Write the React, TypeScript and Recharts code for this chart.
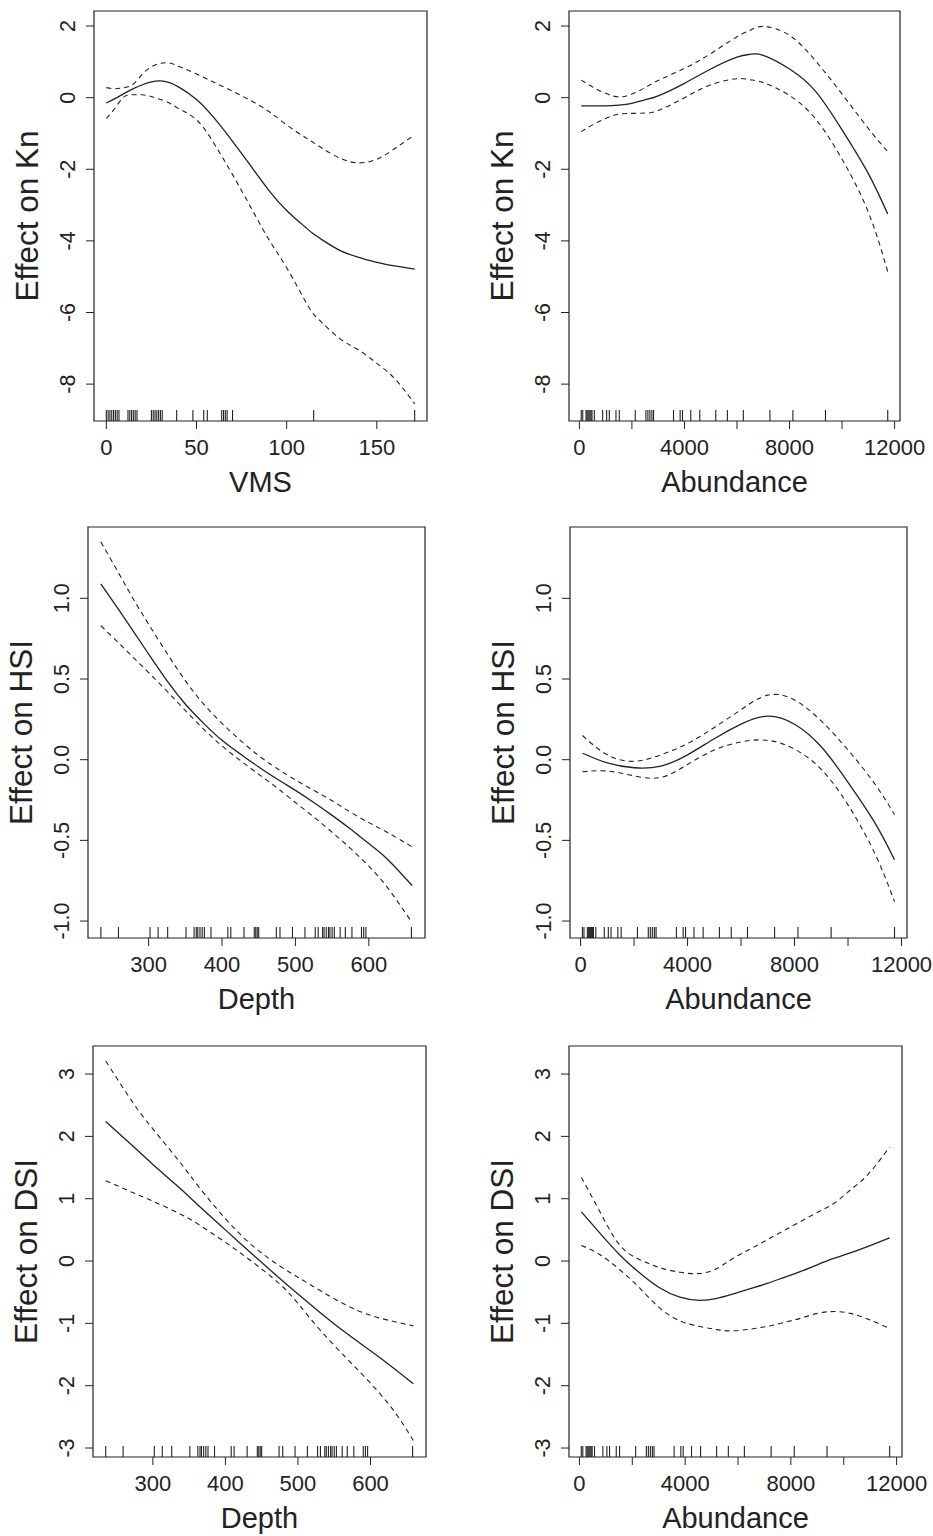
import { ComposedChart, Line, Scatter, XAxis, YAxis, ReferenceArea } from "recharts";

const FONT = '"Liberation Sans", Arial, sans-serif';
const INK = "#222";

// rug (observed covariate values)
const vmsRug = [0, 1, 2, 3, 4, 5, 6, 7, 12, 13, 14, 15, 16, 17, 25, 26, 27, 28, 29, 30, 31, 39, 48, 54, 56, 64, 65, 66, 67, 70, 115, 171];
const abundanceRug = [70, 127, 253, 291, 329, 367, 405, 443, 481, 570, 886, 1038, 1139, 1393, 1519, 2127, 2532, 2608, 2684, 2760, 2823, 3583, 3836, 3925, 4241, 4583, 5191, 5634, 6241, 7254, 8128, 9368, 11738];
const depthRug = [235, 259, 302, 313, 326, 351, 362, 365, 367, 370, 373, 376, 385, 408, 412, 430, 444, 446, 448, 450, 474, 479, 496, 513, 527, 531, 537, 539, 542, 545, 547, 550, 553, 561, 568, 577, 590, 593, 596, 658];

// Kn ~ VMS
const vmsX = [0, 5, 10, 15, 20, 25, 30, 35, 40, 50, 60, 70, 80, 90, 100, 110, 115, 120, 130, 140, 150, 160, 171];
const knVmsFit = [-0.15, -0.02, 0.12, 0.25, 0.36, 0.44, 0.47, 0.42, 0.3, -0.05, -0.58, -1.22, -1.9, -2.58, -3.15, -3.6, -3.81, -3.98, -4.28, -4.46, -4.6, -4.7, -4.79];
const knVmsUpper = [0.28, 0.25, 0.28, 0.38, 0.66, 0.86, 0.96, 0.97, 0.88, 0.66, 0.42, 0.18, -0.08, -0.38, -0.76, -1.1, -1.26, -1.42, -1.7, -1.82, -1.72, -1.42, -1.04];
const knVmsLower = [-0.58, -0.28, 0.03, 0.08, 0.08, 0.03, -0.05, -0.15, -0.3, -0.62, -1.3, -2.15, -3.05, -3.95, -4.75, -5.65, -6.05, -6.3, -6.75, -7.05, -7.42, -7.85, -8.55];

// Kn ~ Abundance
const knAbX = [72, 500, 1000, 1500, 2000, 2500, 3000, 4000, 5000, 6000, 6500, 7000, 8000, 9000, 10000, 11000, 11738];
const knAbFit = [-0.23, -0.23, -0.23, -0.21, -0.16, -0.06, 0.05, 0.4, 0.8, 1.13, 1.21, 1.18, 0.8, 0.17, -0.9, -2.12, -3.25];
const knAbUpper = [0.49, 0.3, 0.12, 0.02, 0.1, 0.28, 0.48, 0.82, 1.23, 1.7, 1.88, 1.99, 1.74, 1.02, 0.1, -0.86, -1.51];
const knAbLower = [-0.95, -0.76, -0.58, -0.46, -0.44, -0.43, -0.36, 0.0, 0.36, 0.53, 0.5, 0.42, 0.06, -0.6, -1.72, -3.2, -4.86];

// HSI ~ Depth
const hsiDepX = [235, 260, 280, 300, 325, 350, 375, 400, 425, 450, 475, 500, 525, 550, 575, 600, 625, 659];
const hsiDepFit = [1.09, 0.925, 0.79, 0.655, 0.49, 0.345, 0.225, 0.12, 0.035, -0.045, -0.12, -0.19, -0.265, -0.345, -0.43, -0.52, -0.615, -0.78];
const hsiDepUpper = [1.35, 1.15, 0.99, 0.84, 0.66, 0.49, 0.345, 0.225, 0.12, 0.025, -0.055, -0.125, -0.19, -0.255, -0.325, -0.39, -0.45, -0.54];
const hsiDepLower = [0.83, 0.72, 0.63, 0.54, 0.425, 0.305, 0.19, 0.085, -0.005, -0.09, -0.175, -0.265, -0.355, -0.45, -0.55, -0.66, -0.79, -1.01];

// HSI ~ Abundance
const hsiAbX = [72, 1000, 2000, 3000, 4000, 5000, 6000, 7000, 8000, 9000, 10000, 11000, 11738];
const hsiAbFit = [0.04, -0.02, -0.05, -0.04, 0.03, 0.13, 0.22, 0.27, 0.22, 0.08, -0.14, -0.39, -0.62];
const hsiAbUpper = [0.15, 0.03, -0.01, 0.03, 0.1, 0.2, 0.31, 0.4, 0.37, 0.24, 0.06, -0.15, -0.34];
const hsiAbLower = [-0.075, -0.07, -0.1, -0.11, -0.03, 0.06, 0.11, 0.12, 0.065, -0.06, -0.28, -0.58, -0.88];

// DSI ~ Depth
const dsiDepX = [235, 272, 300, 337, 364, 400, 438, 475, 500, 530, 567, 600, 632, 659];
const dsiDepFit = [2.24, 1.85, 1.55, 1.17, 0.88, 0.5, 0.1, -0.28, -0.53, -0.82, -1.16, -1.44, -1.72, -1.97];
const dsiDepUpper = [3.21, 2.55, 2.12, 1.59, 1.18, 0.68, 0.24, -0.08, -0.26, -0.47, -0.71, -0.87, -0.97, -1.04];
const dsiDepLower = [1.29, 1.1, 0.96, 0.76, 0.58, 0.3, -0.02, -0.37, -0.68, -1.1, -1.56, -1.96, -2.4, -2.88];

// DSI ~ Abundance
const dsiAbX = [72, 750, 1500, 2250, 3000, 3800, 4550, 5200, 5800, 6500, 7100, 7700, 8350, 9000, 9650, 10250, 10900, 11738];
const dsiAbFit = [0.79, 0.46, 0.11, -0.18, -0.42, -0.58, -0.63, -0.6, -0.53, -0.44, -0.36, -0.27, -0.17, -0.06, 0.045, 0.13, 0.23, 0.37];
const dsiAbUpper = [1.34, 0.81, 0.27, 0.03, -0.1, -0.18, -0.2, -0.12, 0.04, 0.2, 0.34, 0.48, 0.63, 0.78, 0.93, 1.14, 1.38, 1.83];
const dsiAbLower = [0.25, 0.11, -0.13, -0.42, -0.74, -0.96, -1.05, -1.1, -1.12, -1.09, -1.05, -0.99, -0.92, -0.84, -0.81, -0.84, -0.93, -1.08];

const vmsTicks = [0, 50, 100, 150];
const abundanceTicks = [0, 2000, 4000, 6000, 8000, 10000, 12000];
const depthTicks = [300, 400, 500, 600];
const knTicks = [-8, -6, -4, -2, 0, 2];
const hsiTicks = [-1, -0.5, 0, 0.5, 1];
const dsiTicks = [-3, -2, -1, 0, 1, 2, 3];

const vmsDomain: [number, number] = [-6.84, 177.84];
const abundanceDomain: [number, number] = [-395, 12205];
const depthDomain: [number, number] = [217.5, 676.5];
const knDomain: [number, number] = [-9.03, 2.42];
const hsiDomain: [number, number] = [-1.105, 1.442];
const dsiDomain: [number, number] = [-3.144, 3.45];

const AXIS_W = 94;

type PanelProps = {
  left: number;
  top: number;
  width: number;
  height: number;
  xs: number[];
  fit: number[];
  upper: number[];
  lower: number[];
  rug: number[];
  xDomain: [number, number];
  yDomain: [number, number];
  xTicks: number[];
  yTicks: number[];
  xLabel: (v: number) => string;
  yLabel: (v: number) => string;
  xTitle: string;
  yTitle: string;
};

const Panel = (p: PanelProps) => {
  const rows = p.xs.map((x, i) => ({ x, fit: p.fit[i], upper: p.upper[i], lower: p.lower[i] }));
  const rugRows = p.rug.map((x) => ({ x, y: p.yDomain[0] }));
  const chartW = AXIS_W + p.width + 44;
  const chartH = 10 + p.height + 90;

  return (
    <div style={{ position: "absolute", left: p.left - AXIS_W, top: p.top - 10 }}>
      <ComposedChart
        width={chartW}
        height={chartH}
        data={rows}
        margin={{ top: 10, right: 44, bottom: 0, left: 0 }}
        style={{ overflow: "visible" }}
      >
        <XAxis
          type="number"
          dataKey="x"
          domain={p.xDomain}
          ticks={p.xTicks}
          allowDataOverflow
          axisLine={false}
          tickLine={{ stroke: INK }}
          tickSize={8}
          tickMargin={0}
          height={90}
          interval={0}
          tick={({ x, y, payload }: any) => (
            <text x={x} y={y + 26} textAnchor="middle" fontFamily={FONT} fontSize={22} fill={INK}>
              {p.xLabel(payload.value)}
            </text>
          )}
          label={({ viewBox }: any) => (
            <text
              x={viewBox.x + viewBox.width / 2}
              y={viewBox.y + 71}
              textAnchor="middle"
              fontFamily={FONT}
              fontSize={29}
              fill={INK}
            >
              {p.xTitle}
            </text>
          )}
        />
        <YAxis
          type="number"
          domain={p.yDomain}
          ticks={p.yTicks}
          allowDataOverflow
          axisLine={false}
          tickLine={{ stroke: INK }}
          tickSize={8}
          tickMargin={0}
          width={AXIS_W}
          interval={0}
          tick={({ x, y, payload }: any) => (
            <text
              x={x - 11}
              y={y}
              transform={`rotate(-90, ${x - 11}, ${y})`}
              textAnchor="middle"
              fontFamily={FONT}
              fontSize={21.5}
              fill={INK}
            >
              {p.yLabel(payload.value)}
            </text>
          )}
          label={({ viewBox }: any) => {
            const bx = viewBox.x + viewBox.width - 56;
            const by = viewBox.y + viewBox.height / 2;
            return (
              <text
                x={bx}
                y={by}
                transform={`rotate(-90, ${bx}, ${by})`}
                textAnchor="middle"
                fontFamily={FONT}
                fontSize={31.5}
                fill={INK}
              >
                {p.yTitle}
              </text>
            );
          }}
        />
        <ReferenceArea
          x1={p.xDomain[0]}
          x2={p.xDomain[1]}
          y1={p.yDomain[0]}
          y2={p.yDomain[1]}
          fill="none"
          fillOpacity={0}
          stroke={INK}
          strokeWidth={1.2}
        />
        <Line type="natural" dataKey="upper" stroke={INK} strokeWidth={1.1} strokeDasharray="5 4" dot={false} isAnimationActive={false} />
        <Line type="natural" dataKey="lower" stroke={INK} strokeWidth={1.1} strokeDasharray="5 4" dot={false} isAnimationActive={false} />
        <Line type="natural" dataKey="fit" stroke={INK} strokeWidth={1.3} dot={false} isAnimationActive={false} />
        <Scatter
          data={rugRows}
          dataKey="y"
          isAnimationActive={false}
          shape={(s: any) => (
            <line x1={s.cx} x2={s.cx} y1={s.cy} y2={s.cy - 11} stroke={INK} strokeWidth={1.1} />
          )}
        />
      </ComposedChart>
    </div>
  );
};

const plain = (v: number) => String(v);
const everyOther = (v: number) => (v % 4000 === 0 ? String(v) : "");
const oneDec = (v: number) => v.toFixed(1);

export default function App() {
  return (
    <div style={{ position: "absolute", left: 0, top: 0, width: 933, height: 1536, background: "#fff", fontFamily: FONT }}>
      <Panel left={94} top={11} width={333} height={410} xs={vmsX} fit={knVmsFit} upper={knVmsUpper} lower={knVmsLower}
        rug={vmsRug} xDomain={vmsDomain} yDomain={knDomain} xTicks={vmsTicks} yTicks={knTicks}
        xLabel={plain} yLabel={plain} xTitle="VMS" yTitle="Effect on Kn" />
      <Panel left={569} top={11} width={331} height={410} xs={knAbX} fit={knAbFit} upper={knAbUpper} lower={knAbLower}
        rug={abundanceRug} xDomain={abundanceDomain} yDomain={knDomain} xTicks={abundanceTicks} yTicks={knTicks}
        xLabel={everyOther} yLabel={plain} xTitle="Abundance" yTitle="Effect on Kn" />
      <Panel left={88} top={527} width={337} height={411} xs={hsiDepX} fit={hsiDepFit} upper={hsiDepUpper} lower={hsiDepLower}
        rug={depthRug} xDomain={depthDomain} yDomain={hsiDomain} xTicks={depthTicks} yTicks={hsiTicks}
        xLabel={plain} yLabel={oneDec} xTitle="Depth" yTitle="Effect on HSI" />
      <Panel left={570} top={527} width={337} height={411} xs={hsiAbX} fit={hsiAbFit} upper={hsiAbUpper} lower={hsiAbLower}
        rug={abundanceRug} xDomain={abundanceDomain} yDomain={hsiDomain} xTicks={abundanceTicks} yTicks={hsiTicks}
        xLabel={everyOther} yLabel={oneDec} xTitle="Abundance" yTitle="Effect on HSI" />
      <Panel left={93} top={1046} width={333} height={411} xs={dsiDepX} fit={dsiDepFit} upper={dsiDepUpper} lower={dsiDepLower}
        rug={depthRug} xDomain={depthDomain} yDomain={dsiDomain} xTicks={depthTicks} yTicks={dsiTicks}
        xLabel={plain} yLabel={plain} xTitle="Depth" yTitle="Effect on DSI" />
      <Panel left={569} top={1046} width={333} height={411} xs={dsiAbX} fit={dsiAbFit} upper={dsiAbUpper} lower={dsiAbLower}
        rug={abundanceRug} xDomain={abundanceDomain} yDomain={dsiDomain} xTicks={abundanceTicks} yTicks={dsiTicks}
        xLabel={everyOther} yLabel={plain} xTitle="Abundance" yTitle="Effect on DSI" />
    </div>
  );
}
